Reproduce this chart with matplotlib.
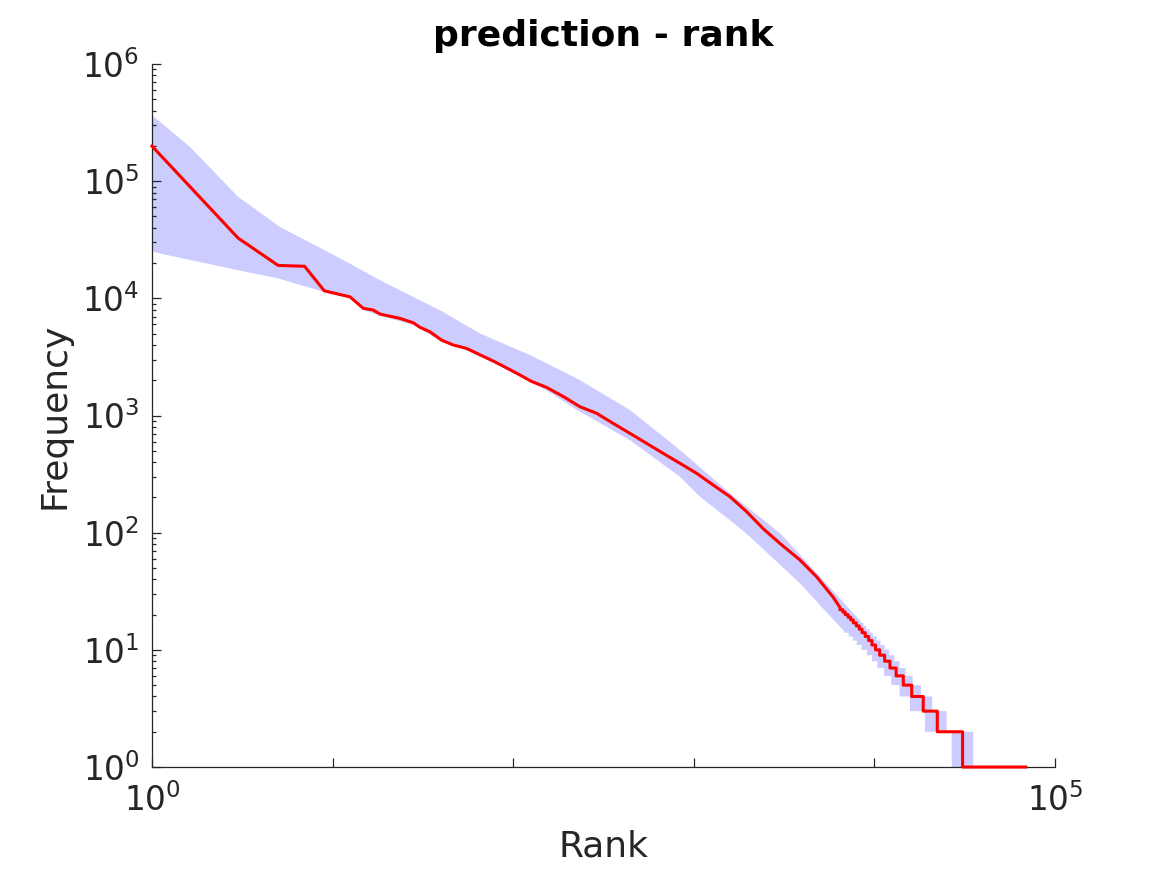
import numpy as np
import matplotlib
matplotlib.use("Agg")
import matplotlib.pyplot as plt
from matplotlib.ticker import LogLocator, NullLocator

# ----------------------
# values
# ----------------------

# red curve, smooth part (rank, frequency)
red_rank = [1, 3, 5, 7, 9, 12.5, 14.8, 16.8, 18.3, 23.6, 28, 30.5, 34.6, 40.2, 46.6,
            55.2, 65.5, 79, 92, 109, 126, 153, 190, 234, 290, 358, 443, 548, 678,
            839, 1038, 1282, 1586, 1963, 2427, 3000, 3873, 4790, 5930, 6450]
red_freq = [199500, 32700, 19100, 18800, 11600, 10300, 8220, 7950, 7350, 6750, 6190,
            5660, 5190, 4400, 4000, 3740, 3300, 2880, 2550, 2220, 1960, 1740, 1450,
            1190, 1045, 857, 705, 579, 475, 391, 321, 255, 203, 151, 108, 81, 58.5,
            42, 28, 23]

# red curve, integer tail: frequency level and the last rank holding it
red_levels = [22, 21, 20, 19, 18, 17, 16, 15, 14, 13, 12, 11, 10, 9, 8, 7, 6, 5, 4, 3, 2, 1]
red_level_end = [6700, 6900, 7150, 7400, 7650, 7950, 8250, 8550, 8900, 9300, 9700, 10150,
                 10700, 11400, 12200, 13200, 14460, 16100, 18650, 22300, 30800, 69000]

# shaded band, upper edge
up_rank = [1, 1.62, 3, 5.1, 11, 18.3, 40, 65.5, 124, 234, 443, 839, 1586, 3000, 3873,
           6000, 8400]
up_freq = [367000, 197000, 73600, 40800, 22000, 14300, 7800, 5020, 3280, 2010, 1115, 507,
           217, 99, 65, 31, 17.5]
up_levels = [17, 16, 15, 14, 13, 12, 11, 10, 9, 8, 7, 6, 5, 4, 3, 2]
up_level_end = [8700, 9000, 9400, 9800, 10300, 10800, 11400, 12100, 12900, 13800, 14900,
                16300, 18100, 20900, 25100, 35300]

# shaded band, lower edge
lo_rank = [1, 2.94, 5, 8.9, 12.5, 14.8, 18.3, 28, 40.2, 55.2, 79, 109, 153, 234, 443,
           839, 1082, 1586, 2046, 3873, 5500, 6800]
lo_freq = [25000, 17500, 14800, 11400, 10000, 8000, 7100, 5950, 4250, 3600, 2780, 2150,
           1640, 1080, 617, 300, 203, 128, 92.5, 37, 20.5, 14.5]
lo_levels = [14, 13, 12, 11, 10, 9, 8, 7, 6, 5, 4, 3, 2, 1]
lo_level_end = [7200, 7600, 8000, 8500, 9100, 9700, 10400, 11300, 12400, 13800, 15740,
                19050, 26800, 35300]


def with_steps(xs, ys, levels, ends):
    # append a staircase of integer levels after the smooth points
    xs = list(xs)
    ys = list(ys)
    for f, e in zip(levels, ends):
        xs += [xs[-1], e]
        ys += [f, f]
    return xs, ys


rx, ry = with_steps(red_rank, red_freq, red_levels, red_level_end)
ux, uy = with_steps(up_rank, up_freq, up_levels, up_level_end)
lx, ly = with_steps(lo_rank, lo_freq, lo_levels, lo_level_end)

band_x = ux + lx[::-1]
band_y = uy + ly[::-1]

# ----------------------
# plot
# ----------------------
plt.rcParams['font.family'] = 'DejaVu Sans'
dark = '#262626'

fig = plt.figure(figsize=(11.67, 8.75), dpi=100)
ax = fig.add_axes([0.1302, 0.1234, 0.7738, 0.8034])

ax.fill(band_x, band_y, color='#ccccff', linewidth=0, clip_on=False, zorder=1)
ax.plot(rx, ry, color='red', linewidth=2.2, clip_on=False, zorder=3)

ax.set_xscale('log')
ax.set_yscale('log')
ax.set_xlim(1, 1e5)
ax.set_ylim(1, 1e6)

ax.set_xticks([1, 10, 100, 1e3, 1e4, 1e5])
ax.set_xticklabels([r'$\mathdefault{10^{0}}$', '', '', '', '', r'$\mathdefault{10^{5}}$'])
ax.xaxis.set_minor_locator(NullLocator())
ax.yaxis.set_major_locator(LogLocator(base=10, numticks=10))
ax.yaxis.set_minor_locator(LogLocator(base=10, subs=np.arange(2, 10), numticks=20))

for s in ['top', 'right']:
    ax.spines[s].set_visible(False)
for s in ['left', 'bottom']:
    ax.spines[s].set_color(dark)
    ax.spines[s].set_linewidth(0.9)

ax.tick_params(which='both', direction='in', colors=dark, labelsize=23.5, width=0.9)
ax.tick_params(which='major', length=6.5)
ax.tick_params(which='minor', length=3.2)
ax.tick_params(axis='y', pad=9)
ax.tick_params(axis='x', pad=12)

ax.set_title('prediction - rank', fontsize=26, fontweight='bold', pad=13)
ax.set_xlabel('Rank', fontsize=26, color=dark, labelpad=8)
ax.set_ylabel('Frequency', fontsize=26, color=dark, labelpad=8)

fig.savefig('out.png', dpi=100)
